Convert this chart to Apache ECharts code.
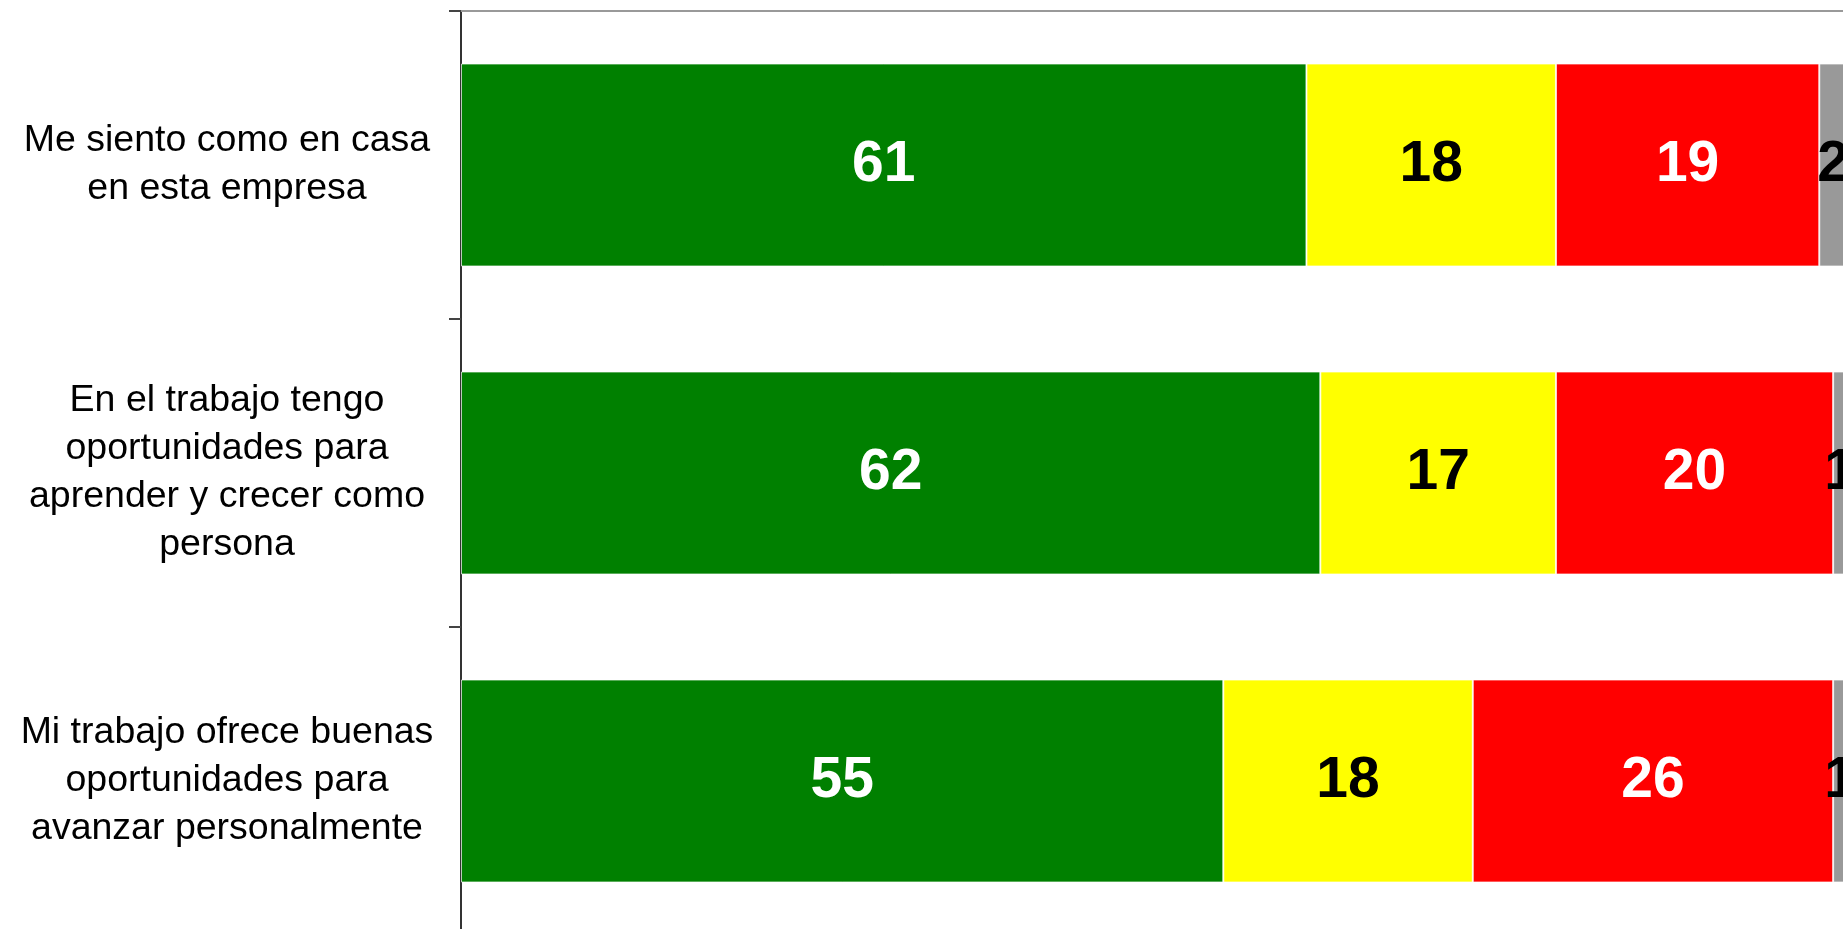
<!DOCTYPE html>
<html>
<head>
<meta charset="utf-8">
<script src="https://cdn.jsdelivr.net/npm/echarts@6/dist/echarts.min.js"></script>
<style>
	html, body { margin: 0; padding: 0; background: #fff; }
	#chart { width: 1843px; height: 929px; }
</style>
</head>
<body>
<div id="chart"></div>
<script>
var categories = [
	'Me siento como en casa\nen esta empresa',
	'En el trabajo tengo\noportunidades para\naprender y crecer como\npersona',
	'Mi trabajo ofrece buenas\noportunidades para\navanzar personalmente'
];
var verde = [61, 62, 55];
var amarillo = [18, 17, 18];
var rojo = [19, 20, 26];
var gris = [2, 1, 1];

var font = 'Liberation Sans, Arial, sans-serif';

var mkSerie = function (name, data, color, labelColor) {
	return {
		name: name,
		type: 'bar',
		stack: 'total',
		barWidth: 203,
		data: data,
		itemStyle: {
			color: color,
			borderColor: 'rgba(255,255,255,0.7)',
			borderWidth: 1
		},
		label: {
			show: true,
			position: 'inside',
			color: labelColor,
			fontSize: 57,
			fontWeight: 'bold',
			fontFamily: font
		}
	};
};

var myChart = echarts.init(document.getElementById('chart'));
var option = {
	animation: false,
	backgroundColor: '#fff',
	grid: {
		left: 461,
		right: -4,
		top: 11,
		bottom: -6,
		outerBoundsMode: 'none'
	},
	xAxis: {
		type: 'value',
		position: 'top',
		min: 0,
		max: 100,
		axisLine: { show: true, lineStyle: { color: '#999', width: 2 } },
		axisTick: { show: false },
		axisLabel: { show: false },
		splitLine: { show: false }
	},
	yAxis: {
		type: 'category',
		inverse: true,
		data: categories,
		axisLine: { show: true, lineStyle: { color: '#333', width: 2 } },
		axisTick: { show: true, length: 12, lineStyle: { color: '#444', width: 2 } },
		axisLabel: {
			margin: 234,
			align: 'center',
			color: '#000',
			fontSize: 37.5,
			lineHeight: 48,
			fontFamily: font
		}
	},
	series: [
		mkSerie('verde', verde, '#008000', '#fff'),
		mkSerie('amarillo', amarillo, '#ffff00', '#000'),
		mkSerie('rojo', rojo, '#ff0000', '#fff'),
		mkSerie('gris', gris, '#999999', '#000')
	]
};
myChart.setOption(option);
</script>
</body>
</html>
